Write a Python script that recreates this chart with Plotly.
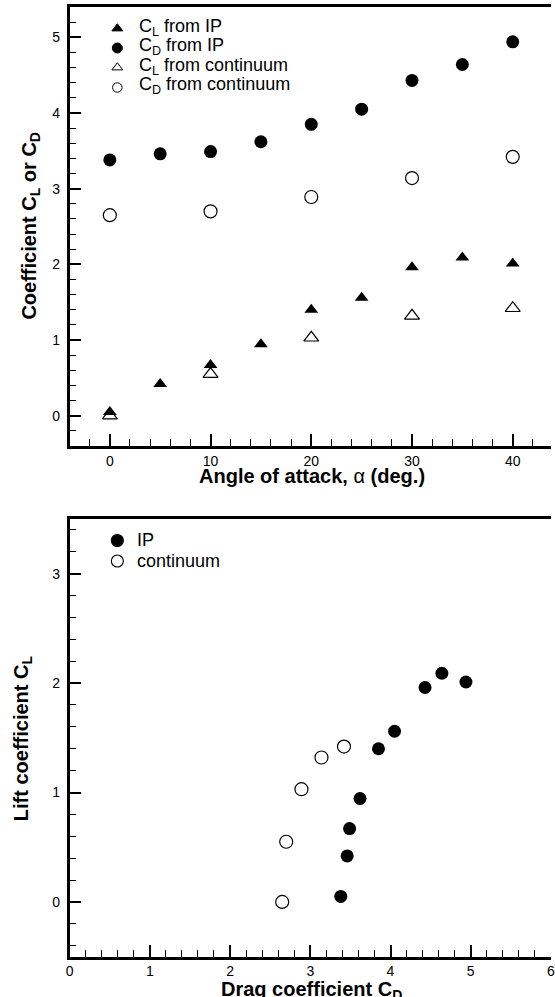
import plotly.graph_objects as go

# Angle of attack (deg.)
alpha_ip = [0, 5, 10, 15, 20, 25, 30, 35, 40]
alpha_cont = [0, 10, 20, 30, 40]

# Lift / drag coefficients from the IP method
cl_ip = [0.05, 0.42, 0.67, 0.945, 1.40, 1.56, 1.96, 2.09, 2.01]
cd_ip = [3.38, 3.46, 3.49, 3.62, 3.85, 4.05, 4.43, 4.64, 4.94]

# Lift / drag coefficients from the continuum solution
cl_cont = [0.0, 0.55, 1.03, 1.32, 1.42]
cd_cont = [2.65, 2.70, 2.89, 3.14, 3.42]

# Tick values
alpha_ticks = [0, 10, 20, 30, 40]
coef_ticks = [0, 1, 2, 3, 4, 5]
cd_ticks = [0, 1, 2, 3, 4, 5, 6]
cl_ticks = [0, 1, 2, 3]

# Legend entries
top_legend_labels = ["C<sub>L</sub> from IP", "C<sub>D</sub> from IP",
                     "C<sub>L</sub> from continuum", "C<sub>D</sub> from continuum"]
top_legend_symbols = ["triangle-up", "circle", "triangle-up-open", "circle-open"]
bottom_legend_labels = ["IP", "continuum"]
bottom_legend_symbols = ["circle", "circle-open"]

W, H = 555, 997
FONT = "Liberation Sans, Arial, Helvetica, sans-serif"


def px(x):
    return x / W


def py(y):
    return 1 - y / H


fig = go.Figure()

# ---- upper panel: coefficients vs angle of attack
fig.add_trace(go.Scatter(x=alpha_cont, y=cl_cont, mode="markers", xaxis="x", yaxis="y",
                         marker=dict(symbol="triangle-up-open", size=13, color="black",
                                     line=dict(width=1.2, color="black"))))
fig.add_trace(go.Scatter(x=alpha_cont, y=cd_cont, mode="markers", xaxis="x", yaxis="y",
                         marker=dict(symbol="circle-open", size=13, color="black",
                                     line=dict(width=1.2, color="black"))))
fig.add_trace(go.Scatter(x=alpha_ip, y=cl_ip, mode="markers", xaxis="x", yaxis="y",
                         marker=dict(symbol="triangle-up", size=12, color="black")))
fig.add_trace(go.Scatter(x=alpha_ip, y=cd_ip, mode="markers", xaxis="x", yaxis="y",
                         marker=dict(symbol="circle", size=13, color="black")))

# ---- lower panel: drag polar
fig.add_trace(go.Scatter(x=cd_cont, y=cl_cont, mode="markers", xaxis="x2", yaxis="y2",
                         marker=dict(symbol="circle-open", size=13, color="black",
                                     line=dict(width=1.2, color="black"))))
fig.add_trace(go.Scatter(x=cd_ip, y=cl_ip, mode="markers", xaxis="x2", yaxis="y2",
                         marker=dict(symbol="circle", size=13, color="black")))

# ---- legend keys, drawn on a hidden pixel-unit axis pair
top_key_y = [28.5, 48, 67.5, 87.5]
top_key_sizes = [9.5, 10, 9.5, 9.5]
for sym, yy, sz in zip(top_legend_symbols, top_key_y, top_key_sizes):
    fig.add_trace(go.Scatter(x=[115], y=[yy], mode="markers", xaxis="x3", yaxis="y3",
                             marker=dict(symbol=sym, size=sz, color="black",
                                         line=dict(width=1, color="black"))))
bottom_key_y = [540.5, 561]
for sym, yy in zip(bottom_legend_symbols, bottom_key_y):
    fig.add_trace(go.Scatter(x=[115], y=[yy], mode="markers", xaxis="x3", yaxis="y3",
                             marker=dict(symbol=sym, size=12, color="black",
                                         line=dict(width=1.1, color="black"))))

tickfont = dict(family=FONT, size=14, color="black")


def axis_style(ticks, minor_step, standoff, **kw):
    base = dict(showgrid=False, zeroline=False, showline=True, linecolor="black",
                linewidth=2.5, ticks="inside", ticklen=12, tickwidth=1.8,
                tickcolor="black", tickfont=tickfont, ticklabelstandoff=standoff,
                tickmode="linear", tick0=ticks[0], dtick=ticks[1] - ticks[0],
                minor=dict(ticks="inside", ticklen=7, tickwidth=1, tickcolor="black",
                           tick0=ticks[0], dtick=minor_step, showgrid=False))
    base.update(kw)
    return base


fig.update_layout(
    width=W, height=H, autosize=False,
    margin=dict(l=0, r=0, t=0, b=0),
    paper_bgcolor="white", plot_bgcolor="rgba(0,0,0,0)",
    showlegend=False,
    xaxis=axis_style(alpha_ticks, 2, 0, domain=[px(66.5), 1], anchor="y",
                     range=[-4, 43.8], mirror=True),
    yaxis=axis_style(coef_ticks, 0.2, 4, domain=[py(446), py(7)], anchor="x",
                     range=[-0.4, 5.4]),
    xaxis2=axis_style(cd_ticks, 0.2, 0, domain=[px(66.5), 1], anchor="y2",
                      range=[0, 6], mirror=True, ticklabeloverflow="allow"),
    yaxis2=axis_style(cl_ticks, 0.2, 4, domain=[py(956.6), py(519)], anchor="x2",
                      range=[-0.5, 3.5]),
    xaxis3=dict(domain=[0, 1], range=[0, W], visible=False, anchor="y3", fixedrange=True),
    yaxis3=dict(domain=[0, 1], range=[H, 0], visible=False, anchor="x3", fixedrange=True),
)

annotations = []
title_font = dict(family=FONT, size=20, color="black")
annotations.append(dict(text="<b>Angle of attack, </b>α<b> (deg.)</b>", x=px(312), y=py(476),
                        xref="paper", yref="paper", showarrow=False,
                        xanchor="center", yanchor="middle", font=title_font))
annotations.append(dict(text="<b>Coefficient C<sub>L</sub> or C<sub>D</sub></b>", x=px(27), y=py(226),
                        xref="paper", yref="paper", showarrow=False, textangle=-90,
                        xanchor="center", yanchor="middle", font=title_font))
annotations.append(dict(text="<b>Drag coefficient C<sub>D</sub></b>", x=px(312), y=py(990),
                        xref="paper", yref="paper", showarrow=False,
                        xanchor="center", yanchor="middle", font=title_font))
annotations.append(dict(text="<b>Lift coefficient C<sub>L</sub></b>", x=px(18.5), y=py(738),
                        xref="paper", yref="paper", showarrow=False, textangle=-90,
                        xanchor="center", yanchor="middle", font=title_font))

legend_font = dict(family=FONT, size=18, color="black")
top_text_y = [27, 46.5, 66.5, 86]
for lab, yy in zip(top_legend_labels, top_text_y):
    annotations.append(dict(text=lab, x=px(135), y=py(yy), xref="paper", yref="paper",
                            showarrow=False, xanchor="left", yanchor="middle", font=legend_font))
bottom_text_y = [540, 561]
for lab, yy in zip(bottom_legend_labels, bottom_text_y):
    annotations.append(dict(text=lab, x=px(133), y=py(yy), xref="paper", yref="paper",
                            showarrow=False, xanchor="left", yanchor="middle", font=legend_font))

fig.update_layout(annotations=annotations)

fig.write_html("out.html")
